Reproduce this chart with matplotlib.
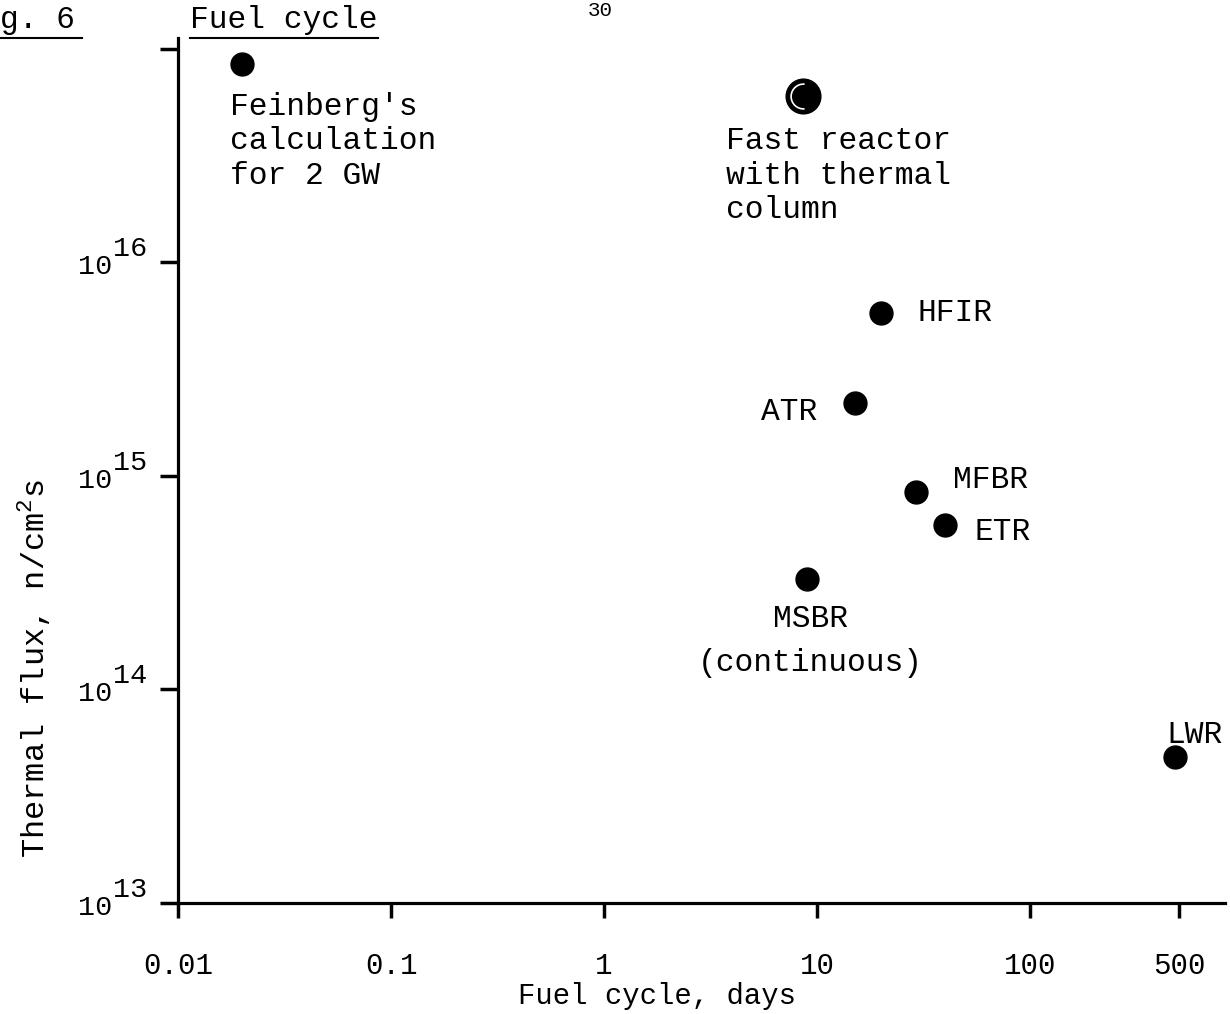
import matplotlib.pyplot as plt
from matplotlib.lines import Line2D
from matplotlib.path import Path

# values
reactors = ["Feinberg's\ncalculation\nfor 2 GW", "Fast reactor\nwith thermal\ncolumn",
            "HFIR", "ATR", "MFBR", "ETR", "MSBR\n(continuous)", "LWR"]
cycle_days = [0.02, 8.6, 20, 15, 29, 40, 9, 480]
thermal_flux = [8.5e16, 6.0e16, 5.8e15, 2.2e15, 8.4e14, 5.9e14, 3.3e14, 4.8e13]
x_ticks = [0.01, 0.1, 1, 10, 100, 500]
x_tick_labels = ["0.01", "0.1", "1", "10", "100", "500"]
y_ticks = [1e13, 1e14, 1e15, 1e16, 1e17]
y_exponents = ["13", "14", "15", "16"]  # the 10^17 tick has no label

# label placement: offset in pixels from the dot, alignment, line spacing
label_style = [
    ((-12, -28), "left", "top", 1.2),
    ((-77, -30), "left", "top", 1.2),
    ((36, 0), "left", "center", 1.2),
    ((-37, -9), "right", "center", 1.2),
    ((37, 12), "left", "center", 1.2),
    ((29, -7), "left", "center", 1.2),
    ((3, -25), "center", "top", 1.62),
    ((-9, 22), "left", "center", 1.2),
]

plt.rcParams['font.family'] = ['Liberation Mono', 'DejaVu Sans Mono']
plt.rcParams['mathtext.fontset'] = 'custom'
plt.rcParams['mathtext.rm'] = 'Liberation Mono'

fig = plt.figure(figsize=(12.3, 10.14), dpi=100)
ax = fig.add_axes([0.1447, 0.1095, 0.8513, 0.853])

ax.set_xscale('log')
ax.set_yscale('log')
ax.set_xlim(0.01, 822)
ax.set_ylim(1e13, 1.12e17)

ax.spines['top'].set_visible(False)
ax.spines['right'].set_visible(False)
for side in ['left', 'bottom']:
    ax.spines[side].set_linewidth(2.3)

ax.set_xticks(x_ticks)
ax.set_xticklabels(x_tick_labels)
ax.set_yticks(y_ticks)
ax.set_yticklabels([])
ax.minorticks_off()
ax.tick_params(axis='x', length=11, width=2.5, labelsize=21, pad=24)
ax.tick_params(axis='y', length=13, width=2.5)

# y tick labels: "10" with a full size exponent, as typed on the original
for tick, exp in zip(y_ticks, y_exponents):
    ax.annotate("10", xy=(0, tick), xycoords=ax.get_yaxis_transform(),
                xytext=(-66, -5), textcoords='offset pixels',
                ha='right', va='center', fontsize=20.5)
    ax.annotate(exp, xy=(0, tick), xycoords=ax.get_yaxis_transform(),
                xytext=(-65, 13), textcoords='offset pixels',
                ha='left', va='center', fontsize=20.5)

# regular reactors
ax.plot(cycle_days[0:1] + cycle_days[2:], thermal_flux[0:1] + thermal_flux[2:],
        'o', color='black', markersize=16.5, linestyle='none')
# fast reactor dot is bigger with a white crescent inside
ax.plot(cycle_days[1], thermal_flux[1], 'o', color='black', markersize=25)
crescent = Path.arc(85, 275)
ax.plot(cycle_days[1], thermal_flux[1], marker=crescent, markersize=18,
        markerfacecolor='none', markeredgecolor='white', markeredgewidth=1.2)

for name, x, y, (off, ha, va, ls) in zip(reactors, cycle_days, thermal_flux, label_style):
    ax.annotate(name, xy=(x, y), xytext=off, textcoords='offset pixels',
                ha=ha, va=va, fontsize=22.5, linespacing=ls)

ax.set_xlabel("Fuel cycle, days", fontsize=20.8)
ax.xaxis.set_label_coords(0.4575, -0.1075)
ax.xaxis.label.set_va('center')
ax.set_ylabel(r"Thermal flux, n/cm$^2$s", fontsize=23)
ax.yaxis.set_label_coords(-0.1375, 0.271)
ax.yaxis.label.set_va('center')

# page header of the scanned figure
fig.text(0.0, 0.980, "g. 6", fontsize=22.5, ha='left', va='center')
fig.add_artist(Line2D([0.0, 0.0667], [0.9625, 0.9625], color='black', linewidth=1.5))
fig.text(0.1545, 0.980, "Fuel cycle", fontsize=22.5, ha='left', va='center')
fig.add_artist(Line2D([0.1545, 0.3075], [0.9625, 0.9625], color='black', linewidth=1.5))
fig.text(0.488, 0.999, "30", fontsize=15, ha='center', va='top')

plt.savefig('out.png', dpi=100)
